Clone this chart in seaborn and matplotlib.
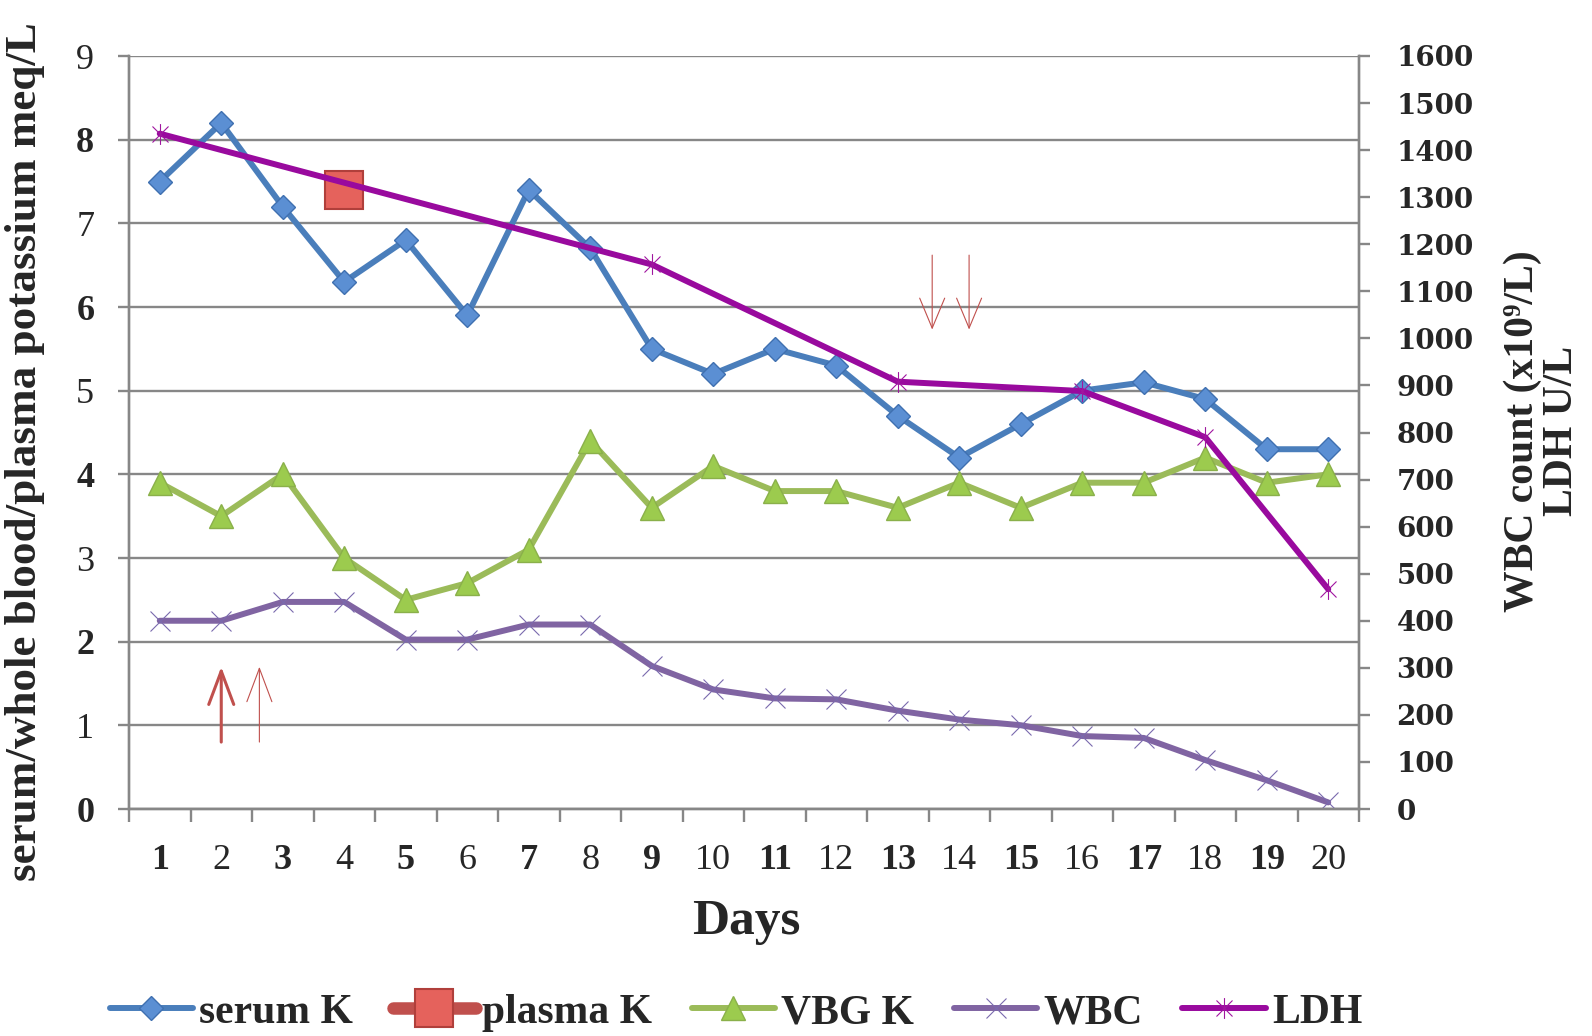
import numpy as np
import pandas as pd
import matplotlib
matplotlib.use("Agg")
import matplotlib.pyplot as plt
import seaborn as sns
from matplotlib.path import Path
from matplotlib.ticker import FixedLocator

# data
days = list(range(1, 21))
serum_k = [7.5, 8.2, 7.2, 6.3, 6.8, 5.9, 7.4, 6.7, 5.5, 5.2, 5.5, 5.3, 4.7, 4.2, 4.6, 5.0, 5.1, 4.9, 4.3, 4.3]
plasma_days = [4]
plasma_k = [7.4]
vbg_k = [3.9, 3.5, 4.0, 3.0, 2.5, 2.7, 3.1, 4.4, 3.6, 4.1, 3.8, 3.8, 3.6, 3.9, 3.6, 3.9, 3.9, 4.2, 3.9, 4.0]
wbc = [400, 400, 440, 440, 360, 360, 392, 392, 304, 254, 235, 233, 209, 190, 178, 155, 151, 104, 61, 14]
ldh_days = [1, 9, 13, 16, 18, 20]
ldh = [1435, 1157, 908, 888, 790, 467]

# annotation arrows (day position, start, end) on the potassium axis
up_arrows = [(2.0, 0.80, 1.70, 2.2), (2.62, 0.80, 1.70, 0.8)]
down_arrows = [(13.56, 6.62, 5.73), (14.16, 6.62, 5.73)]

k_df = pd.DataFrame({"day": days, "serum": serum_k, "vbg": vbg_k, "wbc": wbc})
ldh_df = pd.DataFrame({"day": ldh_days, "ldh": ldh})
plasma_df = pd.DataFrame({"day": plasma_days, "plasma": plasma_k})

sns.set_theme(style="white")
plt.rcParams["font.family"] = ["Liberation Serif", "DejaVu Serif"]

grid_c = "#878787"
fig = plt.figure(figsize=(15.92, 10.36), dpi=100)
ax = fig.add_axes([129 / 1592, 1 - 809 / 1036, 1230 / 1592, 753 / 1036])
ax2 = ax.twinx()

sns.lineplot(data=k_df, x="day", y="serum", ax=ax, color="#4A7EBB", lw=4.3,
             marker="D", markersize=12, markerfacecolor="#5B8FD3",
             markeredgecolor="#3F70B0", markeredgewidth=1, label="serum K")
sns.lineplot(data=plasma_df, x="day", y="plasma", ax=ax, color="#C0504D", lw=9,
             marker="s", markersize=28, markerfacecolor="#E5625C",
             markeredgecolor="#B03F3B", markeredgewidth=1.5, label="plasma K")
sns.lineplot(data=k_df, x="day", y="vbg", ax=ax, color="#9BBB59", lw=4.3,
             marker="^", markersize=17, markerfacecolor="#9CCB4E",
             markeredgecolor="#8AB04A", markeredgewidth=1, label="VBG K")

star = Path([(-1, -1), (1, 1), (-1, 1), (1, -1), (0, -1.3), (0, 1.3)],
            [Path.MOVETO, Path.LINETO, Path.MOVETO, Path.LINETO, Path.MOVETO, Path.LINETO])
sns.lineplot(data=k_df, x="day", y="wbc", ax=ax2, color="#8064A2", lw=4.3,
             marker="x", markersize=14, markeredgecolor="#7A6AAE",
             markeredgewidth=0.8, label="WBC")
sns.lineplot(data=ldh_df, x="day", y="ldh", ax=ax2, color="#990A9E", lw=4.3,
             marker=star, markersize=15, markeredgecolor="#A0169F",
             markeredgewidth=0.8, label="LDH")

for d, y0, y1, w in up_arrows:
    ax.annotate("", xy=(d, y1), xytext=(d, y0),
                arrowprops=dict(arrowstyle="->,head_length=2.0,head_width=0.75",
                                color="#C0504D", lw=w, shrinkA=0, shrinkB=0))
for d, y0, y1 in down_arrows:
    ax.annotate("", xy=(d, y1), xytext=(d, y0),
                arrowprops=dict(arrowstyle="->,head_length=1.8,head_width=0.75",
                                color="#C0504D", lw=0.8, shrinkA=0, shrinkB=0))

# axes styling
ax.set_xlim(0.5, 20.5)
ax.set_ylim(0, 9)
ax2.set_ylim(0, 1600)
ax.set_xlabel("")
ax.set_ylabel("")
ax2.set_ylabel("")

ax.set_yticks(range(0, 10))
ax.yaxis.grid(True, color=grid_c, lw=1.7)
ax.xaxis.grid(False)
ax.set_xticks(days)
ax.xaxis.set_minor_locator(FixedLocator(np.arange(0.5, 21, 1)))
ax.tick_params(axis="x", which="major", length=0, pad=25, labelsize=26)
ax.tick_params(axis="x", which="minor", length=9, width=1.7, color=grid_c, bottom=True)
ax.tick_params(axis="y", length=8, width=1.7, color=grid_c, pad=17, labelsize=26, left=True)

for lab in ax.get_xticklabels():
    if int(lab.get_text()) % 2 == 1:
        lab.set_fontweight("bold")
for lab in ax.get_yticklabels():
    if int(lab.get_text()) % 2 == 0:
        lab.set_fontweight("bold")

ax2.set_yticks(range(0, 1700, 100))
ax2.tick_params(axis="y", length=8, width=1.7, color=grid_c, pad=19, right=True)
for lab in ax2.get_yticklabels():
    lab.set_fontfamily("DejaVu Serif")
    lab.set_fontweight("bold")
    lab.set_fontsize(20)
ax2.grid(False)

for a in (ax, ax2):
    a.spines["top"].set_visible(False)
    for s in ("left", "right", "bottom"):
        a.spines[s].set_color(grid_c)
        a.spines[s].set_linewidth(1.7)

for a in (ax, ax2):
    if a.get_legend() is not None:
        a.get_legend().remove()

fig.text(25 / 1592, 1 - 452 / 1036, "serum/whole blood/plasma potassium meq/L",
         rotation=90, ha="center", va="center", fontsize=32.5, fontweight="bold")
fig.text(1542 / 1592, 1 - 431 / 1036, "WBC count (x10\u2079/L)\nLDH U/L",
         rotation=90, ha="center", va="center", fontsize=30, fontweight="bold",
         linespacing=1.05, multialignment="center")
fig.text(746 / 1592, 1 - 922 / 1036, "Days", ha="center", va="center",
         fontsize=37, fontweight="bold")

h1, l1 = ax.get_legend_handles_labels()
h2, l2 = ax2.get_legend_handles_labels()
fig.legend(h1 + h2, l1 + l2, loc="center", bbox_to_anchor=(736 / 1592, 1 - 1013 / 1036),
           ncol=5, frameon=False, prop={"weight": "bold", "size": 30},
           handlelength=2.0, handletextpad=0.15, columnspacing=0.95)

fig.savefig("out.png", dpi=100)
